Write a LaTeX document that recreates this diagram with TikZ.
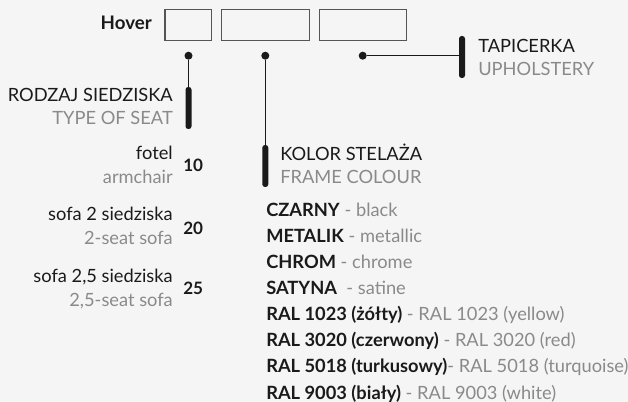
\documentclass[tikz,border=0pt]{standalone}
\usepackage{fontspec}
\setmainfont{Lato}
\definecolor{bgc}{HTML}{F4F5F4}
\definecolor{ink}{HTML}{1A1A1A}
\definecolor{sub}{HTML}{8A8A8A}
\definecolor{boxc}{HTML}{555555}
\tikzset{
  px/.style={x=0.75pt,y=-0.75pt},
  txt/.style={inner sep=0pt,text=ink,font=\fontsize{13.7pt}{16pt}\selectfont},
  gry/.style={txt,text=sub},
  lt/.style={txt,anchor=base west},
  rt/.style={txt,anchor=base east},
  glt/.style={gry,anchor=base west},
  grt/.style={gry,anchor=base east},
  num/.style={lt,font=\fontsize{12.8pt}{15pt}\selectfont\bfseries},
  slot/.style={draw=boxc,line width=0.8pt,fill=none,inner sep=0pt,minimum height=23.5pt},
  pin/.style={circle,fill=ink,inner sep=0pt,minimum size=6pt},
  bar/.style={rectangle,rounded corners=2pt,fill=ink,inner sep=0pt,minimum width=4.5pt,minimum height=31.5pt},
  wire/.style={draw=ink,line width=1.1pt}
}
\begin{document}
\begin{tikzpicture}[px]
\fill[bgc] (0,0) rectangle (628,402);
\useasboundingbox (0,0) rectangle (628,402);
% boxes
\node[slot,minimum width=35pt] (b1) at (188.3,25) {};
\node[slot,minimum width=66pt] (b2) at (265.3,25) {};
\node[slot,minimum width=65.5pt] (b3) at (362.8,25) {};
\node[rt,font=\fontsize{14pt}{16pt}\selectfont\bfseries] (hover) at (152,29.5) {Hover};
% pins
\node[pin] (d1) at (188.5,55.7) {};
\node[pin] (d2) at (265.3,55.7) {};
\node[pin] (d3) at (362.7,55.7) {};
% bars
\node[bar] (k1) at (188.5,108) {};
\node[bar] (k2) at (265.3,166) {};
\node[bar] (k3) at (462,57) {};
% connectors
\draw[wire] (d1) -- (k1.north);
\draw[wire] (d2) -- (k2.north);
\draw[wire] (d3) -- (d3 -| k3.center);
% upholstery
\node[lt] (tap) at (478,52.7) {TAPICERKA};
\node[glt] (uph) at (478,76) {UPHOLSTERY};
% type of seat
\node[rt] (rodz) at (173,101.7) {RODZAJ SIEDZISKA};
\node[grt] (tos) at (173,125) {TYPE OF SEAT};
\node[rt] (s1) at (173,160) {fotel};
\node[grt] (e1) at (173,183.5) {armchair};
\node[num] (n1) at (183,171.7) {10};
\node[rt] (s2) at (173,220.5) {sofa 2 siedziska};
\node[grt] (e2) at (173,244.3) {2-seat sofa};
\node[num] (n2) at (183,234.5) {20};
\node[rt] (s3) at (173,282.3) {sofa 2,5 siedziska};
\node[grt] (e3) at (173,306.5) {2,5-seat sofa};
\node[num] (n3) at (183,294.3) {25};
% frame colour
\node[lt] (kol) at (280,160.7) {KOLOR STELAŻA};
\node[glt] (fc) at (280,184) {FRAME COLOUR};
\node[lt] (c1) at (266,217) {\textbf{CZARNY}\ \textcolor{sub}{- black}};
\node[lt] (c2) at (266,243) {\textbf{METALIK}\ \textcolor{sub}{- metallic}};
\node[lt] (c3) at (266,269) {\textbf{CHROM}\ \textcolor{sub}{- chrome}};
\node[lt] (c4) at (266,295) {\textbf{SATYNA}\ \ \textcolor{sub}{- satine}};
\node[lt] (c5) at (266,321) {\textbf{RAL 1023 (żółty)} \textcolor{sub}{- RAL 1023 (yellow)}};
\node[lt] (c6) at (266,347) {\textbf{RAL 3020 (czerwony)} \textcolor{sub}{- RAL 3020 (red)}};
\node[lt] (c7) at (266,373) {\textbf{RAL 5018 (turkusowy)}\textcolor{sub}{- RAL 5018 (turquoise)}};
\node[lt] (c8) at (266,399) {\textbf{RAL 9003 (biały)} \textcolor{sub}{- RAL 9003 (white)}};
\end{tikzpicture}
\end{document}
